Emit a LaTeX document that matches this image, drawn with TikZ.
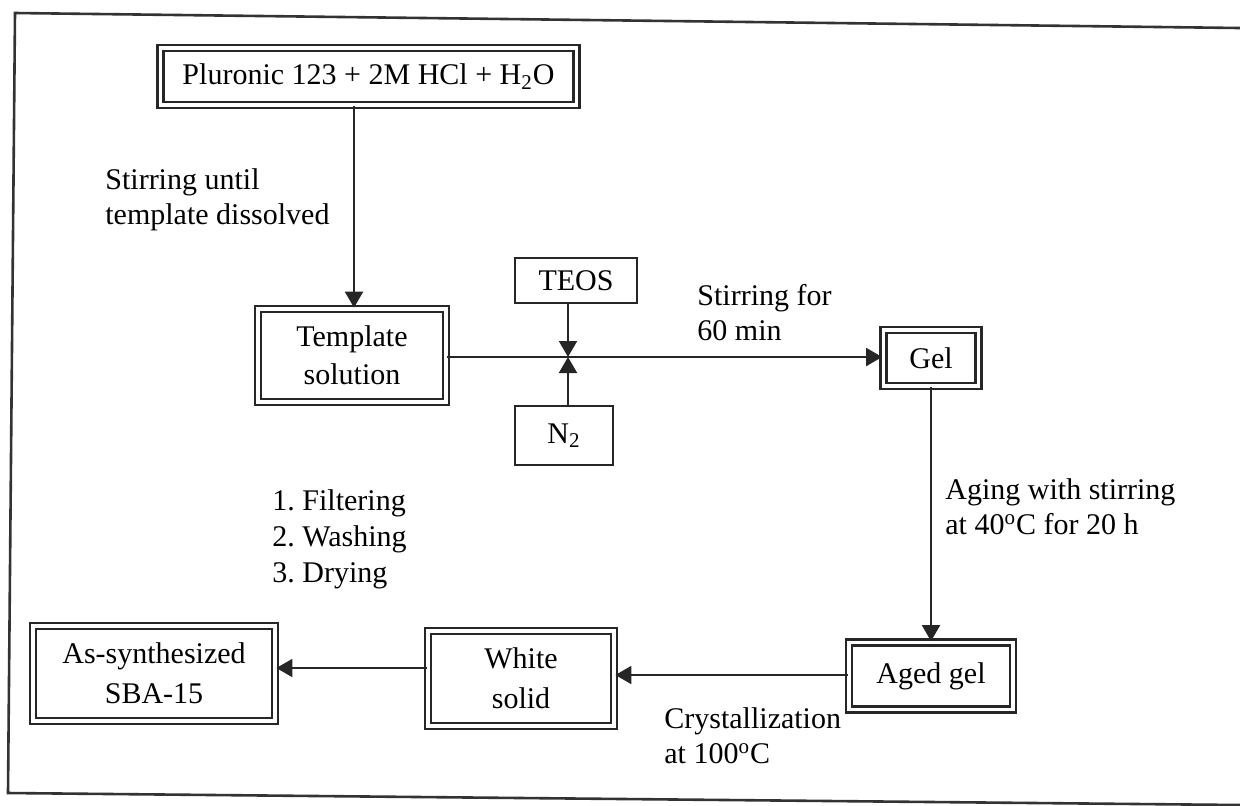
\documentclass[tikz,border=0pt]{standalone}
\usepackage{fontspec}
\setmainfont{Liberation Serif}
\usetikzlibrary{arrows.meta}
\frenchspacing
\begin{document}
\begin{tikzpicture}[x=0.5pt,y=-0.5pt,
  dbox/.style={draw=black!85, double, double distance=1.7pt, line width=1.35pt, inner sep=0pt, align=center, font=\fontsize{15}{17.5}\selectfont},
  sbox/.style={draw=black!85, line width=1pt, inner sep=0pt, align=center, font=\fontsize{15}{17.5}\selectfont},
  lbl/.style={anchor=west, align=left, inner sep=0pt, font=\fontsize{15}{17.5}\selectfont},
  conn/.style={draw=black!85, line width=1pt},
  arr/.style={conn, -{Triangle[length=8pt,width=9pt]}}]
\useasboundingbox (0,0) rectangle (1240,805);
% frame
\draw[black!80, line width=1.3pt] (1240,28) -- (15,13) -- (8,793) -- (1240,805);
% boxes
\node[dbox, minimum width=208pt, minimum height=28.5pt] (plu) at (368.5,76.5) {Pluronic 123 + 2M HCl + H\textsubscript{2}O};
\node[dbox, minimum width=94pt, minimum height=46.5pt] (tmp) at (352,355.5) {Template\\[1.5pt]solution};
\node[sbox, minimum width=61pt, minimum height=22.5pt] (teos) at (576,280.5) {TEOS};
\node[sbox, minimum width=49pt, minimum height=29.5pt] (n2) at (564,435.5) {N\textsubscript{2}};
\node[dbox, minimum width=47.5pt, minimum height=28pt] (gel) at (931,358) {Gel};
\node[dbox, minimum width=82pt, minimum height=33.5pt] (aged) at (931,676) {Aged gel};
\node[dbox, minimum width=93pt, minimum height=47.5pt] (white) at (521,678.5) {White\\[2.5pt]solid};
\node[dbox, minimum width=121pt, minimum height=47.5pt] (as) at (154,673.5) {As-synthesized\\[2.5pt]SBA-15};
\coordinate (j) at (568,357);
% connectors
\draw[arr] (plu.south -| 354,0) -- (tmp.north -| 354,0);
\draw[conn] (tmp.east |- j) -- (j);
\draw[arr] (j) -- (gel.west |- j);
\draw[arr] (teos.south -| j) -- (j);
\draw[arr] (n2.north -| j) -- (j);
\draw[arr] (gel.south) -- (aged.north);
\draw[arr] (aged.west |- 0,675) -- (white.east |- 0,675);
\draw[arr] (white.west |- 0,668) -- (as.east |- 0,668);
% labels
\node[lbl] (l1) at (105,200) {Stirring until\\template dissolved};
\node[lbl] (l2) at (697,313) {Stirring for\\60 min};
\node[lbl] (l3) at (945,507) {Aging with stirring\\at 40\textsuperscript{o}C for 20 h};
\node[lbl] (l4) at (272,539) {1. Filtering\\[0.5pt]2. Washing\\[0.5pt]3. Drying};
\node[lbl] (l5) at (664,736) {Crystallization\\at 100\textsuperscript{o}C};
\end{tikzpicture}
\end{document}
